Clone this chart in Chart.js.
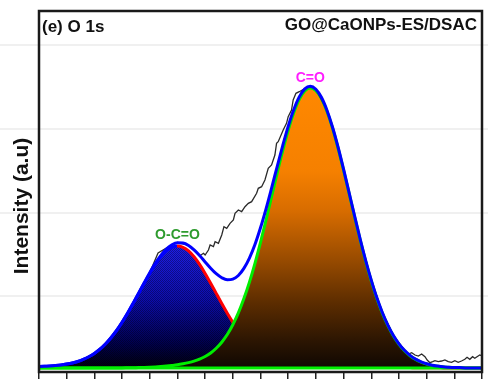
<!DOCTYPE html>
<html>
<head>
<meta charset="utf-8">
<script src="https://cdn.jsdelivr.net/npm/chart.js@4.4.1/dist/chart.umd.min.js"></script>
<style>
  html, body { margin: 0; padding: 0; background: #fff; }
</style>
</head>
<body>
<canvas id="xpsChart" width="488" height="379"></canvas>
<script>
// binding energy grid (eV) for the fitted curves, high -> low
const energies = [
  536.0, 535.9, 535.8, 535.7, 535.6, 535.5, 535.4, 535.3, 535.2, 535.1,
  535.0, 534.9, 534.8, 534.7, 534.6, 534.5, 534.4, 534.3, 534.2, 534.1,
  534.0, 533.9, 533.8, 533.7, 533.6, 533.5, 533.4, 533.3, 533.2, 533.1,
  533.0, 532.9, 532.8, 532.7, 532.6, 532.5, 532.4, 532.3, 532.2, 532.1,
  532.0, 531.9, 531.8, 531.7, 531.6, 531.5, 531.4, 531.3, 531.2, 531.1,
  531.0, 530.9, 530.8, 530.7, 530.6, 530.5, 530.4, 530.3, 530.2, 530.1,
  530.0, 529.9, 529.8, 529.7, 529.6, 529.5, 529.4, 529.3, 529.2, 529.1,
  529.0, 528.9, 528.8, 528.7, 528.6, 528.5, 528.4, 528.3, 528.2, 528.1,
  528.0
];

// O-C=O component
const ocoFit = [
  1.4, 1.7, 2.0, 2.4, 3.0, 3.9, 5.0, 6.5, 8.6, 11.2,
  14.6, 18.8, 24.0, 30.2, 37.4, 45.6, 54.7, 64.5, 74.6, 84.8,
  94.6, 103.6, 111.2, 117.1, 120.7, 122.0, 120.7, 117.1, 111.2, 103.6,
  94.6, 84.8, 74.6, 64.5, 54.7, 45.6, 37.4, 30.2, 24.0, 18.8,
  14.6, 11.2, 8.6, 6.5, 5.0, 3.9, 3.0, 2.4, 2.0, 1.7,
  1.4, 1.3, 1.1, 1.0, 1.0, 0.9, 0.8, 0.8, 0.7, 0.7,
  0.7, 0.6, 0.6, 0.6, 0.5, 0.5, 0.4, 0.4, 0.3, 0.3,
  0.2, 0.2, 0.2, 0.1, 0.1, 0.1, 0.1, 0.0, 0.0, 0.0,
  0.0
];

// C=O component
const coFit = [
  0.0, 0.0, 0.0, 0.0, 0.0, 0.0, 0.0, 0.0, 0.0, 0.0,
  0.0, 0.0, 0.0, 0.1, 0.1, 0.1, 0.2, 0.3, 0.4, 0.5,
  0.7, 1.0, 1.4, 1.9, 2.5, 3.2, 4.2, 5.4, 6.9, 8.9,
  11.5, 15.0, 19.7, 25.8, 33.5, 43.3, 55.1, 69.4, 85.9, 104.7,
  125.6, 148.0, 171.3, 194.7, 217.1, 237.7, 255.2, 268.7, 277.1, 280.0,
  277.3, 269.4, 256.7, 240.0, 220.0, 197.9, 174.6, 151.0, 128.2, 106.7,
  87.2, 69.8, 54.9, 42.3, 32.0, 23.7, 17.3, 12.3, 8.6, 5.9,
  4.0, 2.6, 1.7, 1.1, 0.7, 0.4, 0.3, 0.1, 0.1, 0.0,
  0.0
];

// cumulative fit
const envelope = [
  1.4, 1.7, 2.0, 2.4, 3.0, 3.9, 5.0, 6.5, 8.6, 11.2,
  14.6, 18.8, 24.0, 30.3, 37.5, 45.7, 54.9, 64.8, 75.0, 85.3,
  95.3, 104.6, 112.6, 119.0, 123.2, 125.2, 124.9, 122.5, 118.1, 112.5,
  106.1, 99.8, 94.3, 90.3, 88.2, 88.9, 92.5, 99.6, 109.9, 123.5,
  140.2, 159.2, 179.9, 201.2, 222.1, 241.6, 258.2, 271.1, 279.1, 281.7,
  278.7, 270.7, 257.8, 241.0, 221.0, 198.8, 175.4, 151.8, 128.9, 107.4,
  87.9, 70.4, 55.5, 42.9, 32.5, 24.2, 17.7, 12.7, 8.9, 6.2,
  4.2, 2.8, 1.9, 1.2, 0.8, 0.5, 0.4, 0.1, 0.1, 0.0,
  0.0
];

// flat background under the fit
const baseEnergy = [536.0, 528.0];
const baseCounts = [0, 0];

// measured spectrum
const expEnergy = [
  536.0, 535.8, 535.6, 535.4, 535.2, 535.0, 534.8, 534.6, 534.4, 534.2,
  534.0, 533.85, 533.7, 533.5, 533.3, 533.1, 533.03, 533.0, 532.94, 532.91,
  532.85, 532.82, 532.76, 532.70, 532.66, 532.61, 532.55, 532.49, 532.46, 532.40,
  532.34, 532.28, 532.22, 532.16, 532.07, 532.04, 531.98, 531.92, 531.86, 531.80,
  531.74, 531.71, 531.68, 531.59, 531.53, 531.50, 531.44, 531.41, 531.36, 531.30,
  531.2, 531.1, 531.0, 530.8, 530.6, 530.4, 530.2, 530.0, 529.8, 529.6,
  529.39, 529.33, 529.27, 529.21, 529.15, 529.09, 529.03, 528.99, 528.94, 528.89,
  528.85, 528.79, 528.73, 528.67, 528.61, 528.55, 528.49, 528.43, 528.37, 528.31,
  528.27, 528.22, 528.17, 528.13, 528.09, 528.04, 528.0
];
const expCounts = [
  1.5, 2.0, 3.0, 5.0, 8.6, 14.6, 24.0, 37.5, 55.0, 75.0,
  95.5, 115, 120, 125.5, 123, 112, 114.7, 113, 118, 123,
  121.3, 126.3, 124.7, 133, 141.3, 139.7, 144.7, 148, 154.7, 158,
  156.3, 161.3, 164.7, 166.3, 174.7, 179.7, 181.3, 188, 199.7, 203,
  213, 224.7, 226.3, 238, 244.7, 251.3, 258, 268, 274.7, 276.3,
  279.5, 281.5, 279, 258, 221, 175, 129, 88, 55.5, 32.5,
  17, 14, 15.3, 13, 12, 14, 11.3, 8, 5.3, 6.3,
  7.3, 6.3, 7, 8, 6.3, 5.7, 7.3, 5.7, 7, 8.7,
  10.7, 8.7, 11.3, 9.7, 11.3, 13, 12
];

const peakLabels = [
  { text: 'O-C=O', color: '#2e9b2e', energy: 533.5, dy: -8 },
  { text: 'C=O', color: '#ff1eff', energy: 531.1, dy: -8 }
];

const pts = (xs, ys) => xs.map((x, i) => ({ x, y: ys[i] }));
const ocoPeak = peakLabels[0].energy;

// blue gradient with a fine checker, like a hatched fill
function ocoFill(ctx) {
  const chart = ctx.chart;
  if (!chart.chartArea) return 'rgba(0,0,160,1)';
  const y = chart.scales.y;
  const top = y.getPixelForValue(Math.max(...ocoFit));
  const bottom = y.getPixelForValue(0);
  const c = document.createElement('canvas');
  c.width = 2; c.height = chart.height;
  const g = c.getContext('2d');
  const grad = g.createLinearGradient(0, top, 0, bottom);
  grad.addColorStop(0, 'rgb(30,30,235)');
  grad.addColorStop(0.45, 'rgb(12,12,175)');
  grad.addColorStop(0.8, 'rgb(0,0,80)');
  grad.addColorStop(1, 'rgb(0,0,14)');
  g.fillStyle = grad;
  g.fillRect(0, 0, 2, c.height);
  g.fillStyle = 'rgba(0,0,0,0.35)';
  for (let r = 0; r < c.height; r++) g.fillRect(r % 2, r, 1, 1);
  return chart.ctx.createPattern(c, 'repeat');
}

// red outline only on the falling side, the rising side merges into the fit line
function ocoLine(ctx) {
  const chart = ctx.chart;
  if (!chart.chartArea) return '#ff0000';
  const f = chart.scales.x.getPixelForValue(ocoPeak) / chart.width;
  const grad = chart.ctx.createLinearGradient(0, 0, chart.width, 0);
  grad.addColorStop(0, '#0000ff');
  grad.addColorStop(f, '#0000ff');
  grad.addColorStop(f, '#ff0000');
  grad.addColorStop(1, '#ff0000');
  return grad;
}

function coFill(ctx) {
  const chart = ctx.chart;
  if (!chart.chartArea) return 'rgb(255,136,0)';
  const y = chart.scales.y;
  const top = y.getPixelForValue(Math.max(...coFit));
  const bottom = y.getPixelForValue(0);
  const grad = chart.ctx.createLinearGradient(0, top, 0, bottom);
  grad.addColorStop(0, 'rgb(255,136,0)');
  grad.addColorStop(0.30, 'rgb(245,128,0)');
  grad.addColorStop(0.44, 'rgb(215,108,0)');
  grad.addColorStop(0.62, 'rgb(150,74,0)');
  grad.addColorStop(0.76, 'rgb(95,46,0)');
  grad.addColorStop(0.90, 'rgb(45,22,2)');
  grad.addColorStop(1, 'rgb(15,7,2)');
  return grad;
}

const decor = {
  id: 'decor',
  beforeDraw(chart) {
    const c = chart.ctx;
    c.save();
    c.strokeStyle = '#f0f0f0';
    c.lineWidth = 2;
    [45, 129, 213, 296].forEach(yy => {
      c.beginPath(); c.moveTo(0, yy); c.lineTo(chart.width, yy); c.stroke();
    });
    c.restore();
  },
  afterDraw(chart) {
    const c = chart.ctx;
    const a = chart.chartArea;
    const { x, y } = chart.scales;
    c.save();
    c.strokeStyle = '#1a1a1a';
    c.lineWidth = 2.5;
    c.strokeRect(a.left, a.top, a.right - a.left, a.bottom - a.top);

    c.fillStyle = '#111';
    c.font = 'bold 17px "Liberation Sans", Arial, sans-serif';
    c.textBaseline = 'middle';
    c.textAlign = 'left';
    c.fillText('(e) O 1s', a.left + 3, 27);
    c.textAlign = 'right';
    c.fillText('GO@CaONPs-ES/DSAC', a.right - 5, 25);

    c.font = 'bold 14px "Liberation Sans", Arial, sans-serif';
    c.textAlign = 'center';
    peakLabels.forEach(l => {
      const i = energies.indexOf(l.energy);
      c.fillStyle = l.color;
      c.fillText(l.text, x.getPixelForValue(l.energy), y.getPixelForValue(envelope[i]) + l.dy);
    });

    c.translate(22, 206);
    c.rotate(-Math.PI / 2);
    c.fillStyle = '#111';
    c.font = 'bold 21px "Liberation Sans", Arial, sans-serif';
    c.fillText('Intensity (a.u)', 0, 0);
    c.restore();
  }
};

new Chart(document.getElementById('xpsChart'), {
  type: 'line',
  data: {
    datasets: [
      {
        label: 'Fit',
        data: pts(energies, envelope),
        borderColor: '#0000ff',
        borderWidth: 3,
        fill: false,
        cubicInterpolationMode: 'monotone',
        order: 0
      },
      {
        label: 'Exp',
        data: pts(expEnergy, expCounts),
        borderColor: '#2a2a2a',
        borderWidth: 1.3,
        fill: false,
        tension: 0,
        order: 1
      },
      {
        label: 'Background',
        data: pts(baseEnergy, baseCounts),
        borderColor: '#00ee00',
        borderWidth: 3,
        fill: false,
        order: 2
      },
      {
        label: 'C=O',
        data: pts(energies, coFit),
        borderColor: '#00ee00',
        borderWidth: 3,
        backgroundColor: coFill,
        fill: 'origin',
        cubicInterpolationMode: 'monotone',
        order: 3
      },
      {
        label: 'O-C=O',
        data: pts(energies, ocoFit),
        borderColor: ocoLine,
        borderWidth: 3,
        backgroundColor: ocoFill,
        fill: 'origin',
        cubicInterpolationMode: 'monotone',
        order: 4
      }
    ]
  },
  options: {
    responsive: false,
    animation: false,
    layout: { padding: { top: 11, right: 6, bottom: 0, left: 39 } },
    elements: { point: { radius: 0 } },
    plugins: { legend: { display: false }, tooltip: { enabled: false } },
    scales: {
      x: {
        type: 'linear',
        reverse: true,
        min: 528,
        max: 536,
        border: { display: false },
        grid: { drawOnChartArea: false, drawTicks: true, tickLength: 7, color: '#222', lineWidth: 1.5 },
        ticks: { display: false, stepSize: 0.5 }
      },
      y: {
        display: false,
        min: -4,
        max: 357
      }
    }
  },
  plugins: [decor]
});
</script>
</body>
</html>
